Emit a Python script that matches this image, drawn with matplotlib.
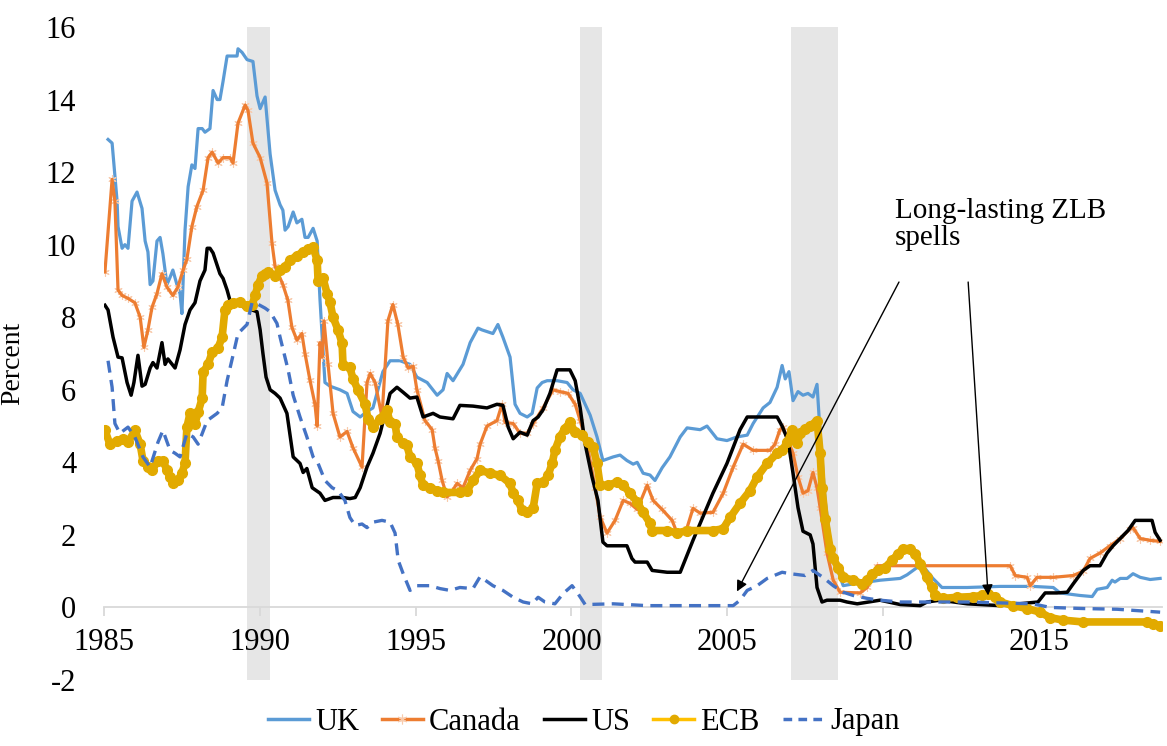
import matplotlib
matplotlib.use('Agg')
import matplotlib.pyplot as plt
from matplotlib.lines import Line2D

# Times-like font, as in the original Excel chart
plt.rcParams['font.family'] = ['Liberation Serif', 'DejaVu Serif']

# policy rates, (year, percent)
uk = [(1985.13, 12.9), (1985.26, 12.8), (1985.42, 11.2), (1985.45, 10.5), (1985.58, 9.9), (1985.67, 10.0),
      (1985.77, 9.9), (1985.90, 11.2), (1986.06, 11.45), (1986.22, 11.0), (1986.32, 10.1), (1986.41, 9.8),
      (1986.48, 8.9), (1986.57, 9.0), (1986.70, 10.1), (1986.80, 10.2), (1986.89, 9.75), (1987.02, 8.9),
      (1987.12, 9.1), (1987.21, 9.3), (1987.34, 8.9), (1987.44, 8.65), (1987.50, 8.1), (1987.60, 10.4),
      (1987.70, 11.6), (1987.82, 12.2), (1987.92, 12.1), (1988.02, 13.2), (1988.15, 13.2), (1988.24, 13.1),
      (1988.40, 13.2), (1988.50, 14.25), (1988.63, 14.0), (1988.72, 14.0), (1988.82, 14.5), (1988.95, 15.2),
      (1989.11, 15.2), (1989.27, 15.2), (1989.30, 15.4), (1989.43, 15.3), (1989.59, 15.1), (1989.78, 15.05),
      (1989.91, 14.1), (1990.01, 13.75), (1990.17, 14.07), (1990.33, 12.5), (1990.49, 11.5), (1990.65, 11.1),
      (1990.74, 10.95), (1990.81, 10.4), (1990.91, 10.5), (1991.07, 10.9), (1991.19, 10.6), (1991.35, 10.7),
      (1991.45, 10.2), (1991.55, 10.2), (1991.71, 10.45), (1991.84, 10.1), (1991.93, 8.5), (1992.09, 6.2),
      (1992.25, 6.1), (1992.57, 6.0), (1992.80, 5.9), (1992.99, 5.4), (1993.22, 5.25), (1993.44, 5.4),
      (1993.63, 5.5), (1993.95, 6.5), (1994.18, 6.8), (1994.50, 6.8), (1994.82, 6.7), (1995.04, 6.35),
      (1995.37, 6.2), (1995.69, 5.85), (1995.88, 6.0), (1996.01, 6.45), (1996.20, 6.25), (1996.52, 6.7),
      (1996.75, 7.3), (1997.00, 7.7), (1997.13, 7.65), (1997.48, 7.55), (1997.64, 7.8), (1997.80, 7.45),
      (1998.03, 6.9), (1998.19, 5.6), (1998.35, 5.35), (1998.58, 5.25), (1998.74, 5.35), (1998.90, 6.05),
      (1999.06, 6.2), (1999.22, 6.25), (1999.54, 6.25), (1999.86, 6.2), (2000.05, 6.0), (2000.28, 5.9),
      (2000.60, 5.3), (2000.82, 4.7), (2001.01, 4.05), (2001.34, 4.15), (2001.56, 4.2), (2001.78, 4.05),
      (2001.98, 3.95), (2002.11, 4.0), (2002.30, 3.7), (2002.52, 3.65), (2002.68, 3.5), (2002.91, 3.85),
      (2003.16, 4.15), (2003.49, 4.7), (2003.71, 4.95), (2004.13, 4.9), (2004.35, 5.0), (2004.67, 4.65),
      (2004.99, 4.6), (2005.31, 4.7), (2005.64, 4.75), (2005.83, 5.07), (2006.15, 5.5), (2006.37, 5.65),
      (2006.60, 6.07), (2006.76, 6.67), (2006.86, 6.3), (2006.98, 6.5), (2007.11, 5.7), (2007.27, 5.95),
      (2007.43, 5.85), (2007.59, 5.9), (2007.75, 5.8), (2007.88, 6.15), (2007.98, 4.8), (2008.14, 2.95),
      (2008.30, 1.85), (2008.52, 1.1), (2008.72, 0.6), (2009.04, 0.65), (2009.49, 0.7), (2009.90, 0.75),
      (2010.55, 0.8), (2010.77, 0.9), (2011.09, 1.1), (2011.35, 1.07), (2011.60, 0.8), (2011.89, 0.55),
      (2012.70, 0.55), (2013.75, 0.58), (2014.81, 0.58), (2015.46, 0.55), (2015.68, 0.4), (2016.32, 0.33),
      (2016.71, 0.3), (2016.87, 0.5), (2017.19, 0.55), (2017.35, 0.75), (2017.44, 0.7), (2017.61, 0.8),
      (2017.83, 0.8), (2018.02, 0.93), (2018.25, 0.83), (2018.57, 0.77), (2018.89, 0.8)]

canada = [(1985.03, 9.25), (1985.26, 11.8), (1985.35, 11.2), (1985.45, 8.75), (1985.58, 8.6), (1985.77, 8.52),
          (1985.99, 8.4), (1986.16, 8.0), (1986.28, 7.17), (1986.41, 7.65), (1986.54, 8.27), (1986.70, 8.65),
          (1986.86, 9.2), (1987.02, 8.83), (1987.21, 8.6), (1987.37, 8.83), (1987.54, 9.3), (1987.66, 9.6),
          (1987.82, 10.5), (1987.98, 11.05), (1988.18, 11.5), (1988.34, 12.4), (1988.47, 12.55), (1988.66, 12.25),
          (1988.82, 12.4), (1989.04, 12.4), (1989.14, 12.25), (1989.30, 13.35), (1989.53, 13.85), (1989.62, 13.7),
          (1989.78, 12.8), (1990.01, 12.4), (1990.23, 11.7), (1990.39, 10.05), (1990.49, 9.4), (1990.74, 8.9),
          (1990.90, 8.47), (1991.03, 7.72), (1991.19, 7.37), (1991.35, 7.55), (1991.45, 7.0), (1991.61, 6.26),
          (1991.77, 5.6), (1991.84, 5.0), (1991.93, 7.3), (1992.00, 6.9), (1992.06, 7.9), (1992.19, 6.7),
          (1992.35, 5.35), (1992.57, 4.7), (1992.80, 4.85), (1992.99, 4.4), (1993.28, 3.87), (1993.44, 6.2),
          (1993.54, 6.45), (1993.70, 6.2), (1993.92, 5.25), (1994.11, 7.9), (1994.27, 8.35), (1994.43, 7.8),
          (1994.60, 6.9), (1994.76, 6.6), (1994.92, 6.65), (1995.04, 6.0), (1995.30, 5.15), (1995.53, 4.9),
          (1995.62, 4.4), (1995.72, 4.05), (1995.85, 3.5), (1996.01, 3.05), (1996.17, 3.2), (1996.33, 3.42),
          (1996.52, 3.3), (1996.75, 3.78), (1996.97, 4.1), (1997.07, 4.5), (1997.29, 5.0), (1997.61, 5.15),
          (1997.77, 5.6), (1997.87, 5.1), (1998.13, 5.07), (1998.35, 4.8), (1998.58, 4.8), (1998.77, 5.07),
          (1999.09, 5.5), (1999.41, 6.0), (1999.63, 5.95), (1999.89, 5.9), (2000.12, 5.6), (2000.28, 5.15),
          (2000.50, 4.5), (2000.76, 3.3), (2000.92, 2.5), (2001.14, 2.05), (2001.40, 2.4), (2001.66, 2.95),
          (2001.88, 2.87), (2002.11, 2.7), (2002.43, 3.37), (2002.62, 2.95), (2002.91, 2.7), (2003.23, 2.4),
          (2003.39, 2.05), (2003.71, 2.2), (2003.90, 2.73), (2004.13, 2.6), (2004.54, 2.62), (2004.87, 3.15),
          (2005.19, 3.87), (2005.51, 4.5), (2005.83, 4.33), (2006.37, 4.33), (2006.53, 4.5), (2006.69, 4.9),
          (2006.79, 4.97), (2006.95, 4.6), (2007.11, 4.25), (2007.27, 3.6), (2007.43, 3.15), (2007.59, 3.22),
          (2007.75, 3.72), (2007.88, 3.3), (2007.98, 2.75), (2008.20, 1.5), (2008.40, 0.75), (2008.62, 0.42),
          (2009.26, 0.4), (2009.49, 0.55), (2009.81, 1.15), (2014.08, 1.15), (2014.24, 0.88), (2014.62, 0.83),
          (2014.72, 0.6), (2014.94, 0.83), (2015.46, 0.83), (2016.10, 0.88), (2016.42, 1.0), (2016.64, 1.35),
          (2016.96, 1.5), (2017.28, 1.7), (2017.61, 1.9), (2017.93, 2.17), (2018.02, 2.2), (2018.25, 1.9),
          (2018.57, 1.85), (2018.89, 1.82)]

us = [(1985.03, 8.33), (1985.13, 8.2), (1985.29, 7.45), (1985.45, 6.9), (1985.58, 6.88), (1985.74, 6.2),
      (1985.87, 5.85), (1985.96, 6.2), (1986.09, 6.95), (1986.22, 6.1), (1986.32, 6.15), (1986.48, 6.6),
      (1986.57, 6.75), (1986.70, 6.6), (1986.86, 7.3), (1986.96, 6.7), (1987.05, 6.85), (1987.28, 6.6),
      (1987.44, 7.1), (1987.60, 7.8), (1987.76, 8.2), (1987.92, 8.4), (1988.08, 9.0), (1988.24, 9.3),
      (1988.31, 9.9), (1988.40, 9.9), (1988.50, 9.77), (1988.72, 9.2), (1988.82, 9.07), (1988.95, 8.75),
      (1989.04, 8.47), (1989.20, 8.4), (1989.43, 8.3), (1989.75, 8.2), (1989.91, 8.15), (1990.01, 7.65),
      (1990.10, 7.0), (1990.20, 6.35), (1990.33, 6.0), (1990.49, 5.9), (1990.65, 5.77), (1990.87, 5.35),
      (1991.07, 4.15), (1991.29, 3.97), (1991.39, 3.72), (1991.51, 3.83), (1991.68, 3.3), (1991.93, 3.15),
      (1992.09, 2.95), (1992.35, 3.03), (1992.67, 3.03), (1992.89, 3.0), (1993.06, 3.03), (1993.22, 3.3),
      (1993.44, 3.87), (1993.63, 4.25), (1993.86, 4.8), (1994.02, 5.35), (1994.18, 5.9), (1994.40, 6.07),
      (1994.60, 5.93), (1994.82, 5.77), (1995.04, 5.8), (1995.24, 5.25), (1995.56, 5.35), (1995.78, 5.25),
      (1996.20, 5.2), (1996.42, 5.57), (1996.84, 5.55), (1997.29, 5.5), (1997.61, 5.6), (1997.80, 5.57),
      (1997.97, 4.97), (1998.13, 4.65), (1998.35, 4.83), (1998.58, 4.75), (1998.77, 5.15), (1998.93, 5.25),
      (1999.09, 5.45), (1999.31, 5.9), (1999.54, 6.55), (1999.95, 6.55), (2000.12, 6.25), (2000.28, 5.5),
      (2000.44, 4.5), (2000.66, 3.6), (2000.85, 2.95), (2001.01, 1.8), (2001.14, 1.7), (2001.78, 1.7),
      (2001.94, 1.35), (2002.04, 1.25), (2002.43, 1.25), (2002.59, 1.02), (2003.07, 0.97), (2003.49, 0.97),
      (2003.90, 1.85), (2004.54, 3.15), (2004.99, 3.97), (2005.41, 4.9), (2005.64, 5.25), (2006.60, 5.25),
      (2006.76, 5.0), (2006.95, 4.6), (2007.11, 3.7), (2007.27, 2.75), (2007.43, 2.1), (2007.66, 2.0),
      (2007.75, 1.75), (2007.88, 0.55), (2008.04, 0.15), (2008.20, 0.2), (2008.62, 0.2), (2008.84, 0.15),
      (2009.17, 0.1), (2009.90, 0.2), (2010.55, 0.08), (2011.19, 0.05), (2011.41, 0.15), (2011.83, 0.2),
      (2012.70, 0.1), (2013.75, 0.05), (2014.97, 0.15), (2015.20, 0.4), (2015.58, 0.4), (2015.91, 0.42),
      (2016.10, 0.65), (2016.42, 1.02), (2016.64, 1.15), (2016.96, 1.15), (2017.19, 1.5), (2017.38, 1.7),
      (2017.61, 1.9), (2017.86, 2.12), (2018.09, 2.4), (2018.63, 2.4), (2018.73, 2.07), (2018.89, 1.85)]

ecb = [(1985.03, 4.88), (1985.19, 4.5), (1985.42, 4.6), (1985.61, 4.65), (1985.77, 4.55), (1985.99, 4.88),
       (1986.16, 4.5), (1986.25, 4.05), (1986.41, 3.87), (1986.54, 3.78), (1986.73, 4.05), (1986.89, 4.05),
       (1987.02, 3.78), (1987.12, 3.6), (1987.21, 3.42), (1987.37, 3.5), (1987.50, 3.7), (1987.60, 3.97),
       (1987.66, 4.97), (1987.76, 5.35), (1987.92, 5.07), (1988.02, 5.38), (1988.15, 5.77), (1988.18, 6.48),
       (1988.34, 6.7), (1988.47, 7.03), (1988.66, 7.15), (1988.79, 7.45), (1988.88, 8.2), (1988.98, 8.33),
       (1989.14, 8.4), (1989.36, 8.42), (1989.59, 8.3), (1989.75, 8.33), (1989.85, 8.6), (1989.94, 8.88),
       (1990.07, 9.15), (1990.17, 9.2), (1990.26, 9.25), (1990.49, 9.15), (1990.65, 9.3), (1990.81, 9.38),
       (1990.97, 9.57), (1991.19, 9.7), (1991.39, 9.8), (1991.55, 9.87), (1991.71, 9.93), (1991.84, 9.57),
       (1991.87, 9.0), (1992.03, 9.07), (1992.16, 8.65), (1992.25, 8.42), (1992.35, 8.0), (1992.51, 7.65),
       (1992.64, 7.28), (1992.67, 6.68), (1992.89, 6.62), (1992.99, 6.3), (1993.15, 6.0), (1993.38, 5.6),
       (1993.47, 5.2), (1993.63, 4.97), (1993.86, 5.2), (1994.08, 5.43), (1994.18, 5.1), (1994.34, 5.07),
       (1994.40, 4.7), (1994.60, 4.52), (1994.72, 4.47), (1994.82, 4.15), (1995.04, 3.97), (1995.14, 3.64),
       (1995.24, 3.37), (1995.46, 3.3), (1995.69, 3.22), (1995.88, 3.17), (1996.42, 3.17), (1996.65, 3.22),
       (1996.84, 3.5), (1997.07, 3.78), (1997.39, 3.7), (1997.71, 3.64), (1998.03, 3.42), (1998.13, 3.15),
       (1998.29, 2.95), (1998.41, 2.68), (1998.58, 2.62), (1998.77, 2.73), (1998.90, 3.42), (1999.09, 3.45),
       (1999.25, 3.64), (1999.38, 3.97), (1999.47, 4.33), (1999.63, 4.7), (1999.79, 4.93), (1999.95, 5.1),
       (2000.12, 4.83), (2000.34, 4.75), (2000.53, 4.55), (2000.69, 4.42), (2000.82, 3.97), (2000.92, 3.37),
       (2001.17, 3.37), (2001.46, 3.45), (2001.66, 3.37), (2001.88, 3.15), (2002.11, 2.9), (2002.30, 2.62),
       (2002.52, 2.32), (2002.59, 2.12), (2003.07, 2.12), (2003.39, 2.05), (2003.71, 2.12), (2004.54, 2.12),
       (2004.87, 2.17), (2005.09, 2.48), (2005.41, 2.87), (2005.73, 3.22), (2005.96, 3.6), (2006.28, 3.97),
       (2006.60, 4.25), (2006.76, 4.33), (2006.92, 4.55), (2007.08, 4.88), (2007.24, 4.52), (2007.34, 4.8),
       (2007.50, 4.93), (2007.66, 5.0), (2007.88, 5.15), (2007.98, 4.25), (2008.04, 3.3), (2008.14, 2.45),
       (2008.30, 1.62), (2008.40, 1.35), (2008.56, 1.1), (2008.72, 0.83), (2009.04, 0.75), (2009.33, 0.65),
       (2009.49, 0.75), (2009.65, 0.93), (2009.84, 1.02), (2010.06, 1.1), (2010.29, 1.3), (2010.48, 1.48),
       (2010.64, 1.62), (2010.87, 1.62), (2011.03, 1.48), (2011.19, 1.2), (2011.41, 0.83), (2011.57, 0.55),
       (2011.67, 0.33), (2011.93, 0.25), (2012.37, 0.28), (2012.89, 0.3), (2013.18, 0.33), (2013.37, 0.38),
       (2013.59, 0.28), (2013.75, 0.15), (2014.17, 0.05), (2014.62, -0.03), (2015.04, -0.13), (2015.36, -0.28),
       (2015.78, -0.35), (2016.42, -0.4), (2018.47, -0.4), (2018.66, -0.45), (2018.89, -0.5)]

japan = [(1985.13, 6.8), (1985.26, 6.07), (1985.35, 5.07), (1985.51, 4.8), (1985.77, 4.97), (1985.99, 4.7),
         (1986.25, 4.15), (1986.48, 3.87), (1986.73, 4.55), (1986.89, 4.88), (1987.12, 4.33), (1987.28, 4.25),
         (1987.44, 4.15), (1987.66, 4.8), (1987.86, 4.7), (1988.02, 4.5), (1988.31, 5.15), (1988.63, 5.35),
         (1988.79, 5.5), (1988.95, 6.25), (1989.14, 6.95), (1989.30, 7.55), (1989.59, 7.8), (1989.75, 8.4),
         (1989.85, 8.4), (1990.17, 8.25), (1990.33, 8.15), (1990.55, 7.83), (1990.65, 7.45), (1990.91, 6.54),
         (1991.07, 5.85), (1991.29, 5.25), (1991.51, 4.7), (1991.71, 4.15), (1991.87, 3.97), (1992.09, 3.5),
         (1992.32, 3.3), (1992.51, 3.22), (1992.73, 2.95), (1992.89, 2.48), (1993.06, 2.26), (1993.28, 2.3),
         (1993.44, 2.2), (1993.63, 2.35), (1993.92, 2.4), (1994.18, 2.35), (1994.34, 2.05), (1994.44, 1.3),
         (1994.60, 0.93), (1994.82, 0.47), (1995.04, 0.6), (1995.46, 0.6), (1995.78, 0.52), (1996.10, 0.47),
         (1996.42, 0.55), (1996.84, 0.52), (1997.07, 0.85), (1997.48, 0.6), (1997.80, 0.47), (1998.13, 0.28),
         (1998.45, 0.15), (1998.74, 0.1), (1998.93, 0.28), (1999.15, 0.15), (1999.47, 0.1), (1999.73, 0.38),
         (2000.02, 0.6), (2000.21, 0.38), (2000.44, 0.08), (2001.34, 0.1), (2002.43, 0.05), (2005.19, 0.05),
         (2005.41, 0.2), (2005.64, 0.47), (2005.96, 0.6), (2006.28, 0.8), (2006.76, 0.97), (2007.02, 0.93),
         (2007.50, 0.88), (2007.75, 1.02), (2008.07, 0.83), (2008.40, 0.6), (2008.72, 0.42), (2009.04, 0.33),
         (2009.49, 0.25), (2009.90, 0.2), (2010.55, 0.15), (2012.70, 0.15), (2014.81, 0.1), (2015.36, 0.0),
         (2016.42, -0.03), (2017.51, -0.05), (2018.89, -0.13)]

# grey shaded periods
recessions = [(1989.59, 1990.33), (2000.28, 2000.98), (2007.05, 2008.56)]

x_ticks = [1985, 1990, 1995, 2000, 2005, 2010, 2015]
y_ticks = [-2, 0, 2, 4, 6, 8, 10, 12, 14, 16]

# colours (Excel default palette)
c_uk = '#5B9BD5'
c_can = '#ED7D31'
c_can_mark = '#F8CBAD'
c_ecb_line = '#FFC000'
c_ecb_dot = '#E2AA00'
c_jp = '#4472C4'
c_axis = '#D9D9D9'

fig = plt.figure(figsize=(11.67, 7.46), dpi=100)
ax = fig.add_axes([104 / 1167, 1 - 680 / 746, 1058 / 1167, 653 / 746])

for start, end in recessions:
    ax.axvspan(start, end, color='#E6E6E6', lw=0, zorder=0)

ax.plot(*zip(*uk), color=c_uk, lw=2.3, zorder=3)

can_x, can_y = zip(*canada)
ax.plot(can_x, can_y, ls='none', marker=(6, 2, 0), ms=6, mec=c_can_mark, mew=0.8, zorder=3.9)
ax.plot(can_x, can_y, color=c_can, lw=2.3, zorder=4)

ax.plot(*zip(*us), color='black', lw=2.5, zorder=5)

# ECB: monthly dots overlap into a thick band
ax.plot(*zip(*ecb), color=c_ecb_dot, lw=5.5, marker='o', ms=7, mfc=c_ecb_dot, mec=c_ecb_dot,
        solid_joinstyle='round', solid_capstyle='round', zorder=6)

ax.plot(*zip(*japan), color=c_jp, lw=2.4, dashes=(3.6, 2.2), zorder=7)

ax.set_xlim(1985, 2018.95)
ax.set_ylim(-2, 16)

for side in ['top', 'right', 'left']:
    ax.spines[side].set_visible(False)
ax.spines['bottom'].set_position(('data', 0))
ax.spines['bottom'].set_color(c_axis)
ax.spines['bottom'].set_linewidth(1.3)
ax.spines['bottom'].set_zorder(2)

ax.set_xticks(x_ticks)
ax.set_xticklabels([str(t) for t in x_ticks])
ax.tick_params(axis='x', direction='out', length=6.5, width=1.3, color=c_axis, labelsize=22, pad=8)
ax.set_yticks(y_ticks)
ax.set_yticklabels([str(t) for t in y_ticks])
ax.tick_params(axis='y', length=0, labelsize=22, pad=20)

ax.set_ylabel('Percent', fontsize=20)
ax.yaxis.set_label_coords(-0.0747, 0.485)

# annotation with two arrows
ax.text(2010.38, 11.3, 'Long-lasting ZLB\nspells', fontsize=21, ha='left', va='top', linespacing=1.05)
arrow = dict(arrowstyle='-|>', color='black', lw=1.0, mutation_scale=16, shrinkA=0, shrinkB=0)
ax.annotate('', xy=(2005.31, 0.44), xytext=(2010.51, 8.97), arrowprops=arrow, zorder=8)
ax.annotate('', xy=(2013.37, 0.33), xytext=(2012.73, 8.97), arrowprops=arrow, zorder=8)

handles = [
    Line2D([], [], color=c_uk, lw=2.5),
    Line2D([], [], color=c_can, lw=2.5, marker=(6, 2, 0), ms=7, mec=c_can_mark, mew=0.8),
    Line2D([], [], color='black', lw=2.5),
    Line2D([], [], color=c_ecb_line, lw=2.5, marker='o', ms=6, mfc=c_ecb_dot, mec=c_ecb_dot),
    Line2D([], [], color=c_jp, lw=2.5, dashes=(2.5, 1.8)),
]
fig.legend(handles, ['UK', 'Canada', 'US', 'ECB', 'Japan'], loc='center', bbox_to_anchor=(0.5, 1 - 722 / 746),
           ncol=5, frameon=False, fontsize=22, handlelength=1.35, handletextpad=0.2, columnspacing=0.75)

fig.savefig('out.png', dpi=100)
